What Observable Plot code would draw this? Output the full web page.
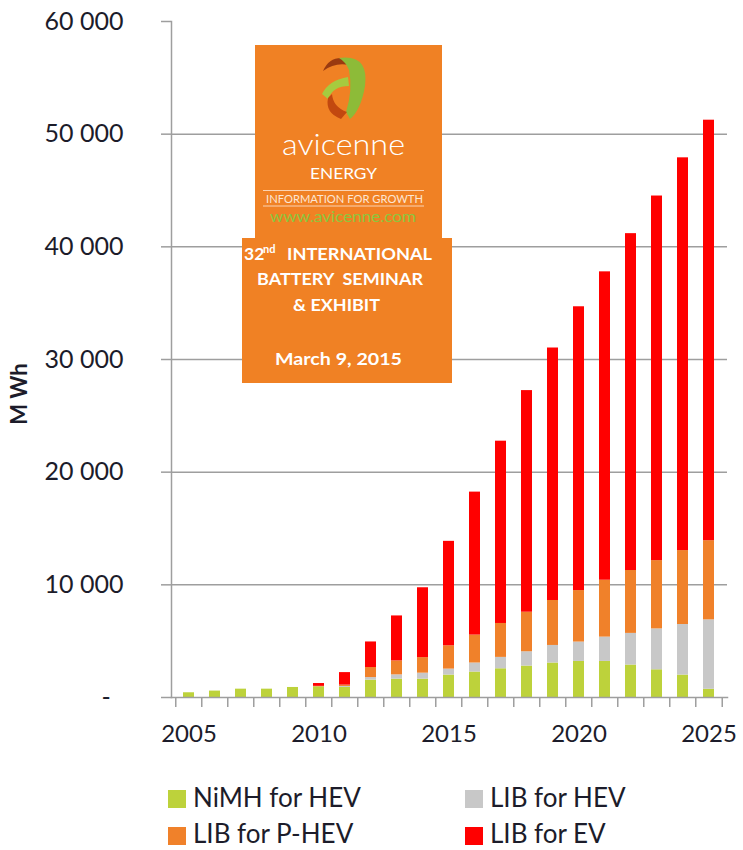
<!DOCTYPE html>
<html>
<head>
<meta charset="utf-8">
<script src="https://cdn.jsdelivr.net/npm/d3@7"></script>
<script src="https://cdn.jsdelivr.net/npm/@observablehq/plot@0.6"></script>
<style>
  html, body { margin: 0; padding: 0; background: #ffffff; }
  #wrap { position: relative; width: 743px; height: 850px; overflow: hidden; font-family: Lato, "Open Sans", sans-serif; }
  #chart { position: absolute; left: 0; top: 0; }
  #overlay { position: absolute; left: 0; top: 0; pointer-events: none; }
  .leg { position: absolute; font-family: Lato, sans-serif; font-size: 26px; color: #1c1c2a; line-height: 26px; white-space: nowrap; }
  .sw { position: absolute; width: 18px; height: 18px; }
</style>
</head>
<body>
<div id="wrap">
  <div id="chart"></div>
  <div id="legend"></div>
  <svg id="overlay" width="743" height="850" xmlns="http://www.w3.org/2000/svg">
    <!-- axis title -->
    <text x="0" y="0" transform="translate(27,394) rotate(-90)" text-anchor="middle" font-family="Lato, sans-serif" font-weight="700" font-size="22" fill="#1c1c2a">M Wh</text>
    <!-- avicenne box -->
    <rect x="255" y="45" width="187" height="194" fill="#f08124"/>
    <rect x="242" y="238" width="210" height="145" fill="#f08124"/>
    <!-- logo -->
    <path d="M323,71 Q329,57 343,58 L349,65 Q335,62 323,71 Z" fill="#9a3a10"/>
    <path d="M339,58 Q369,54 365,86 Q361,110 350,119 L346,112 Q353,90 349,70 Q346,62 339,58 Z" fill="#8dbb38"/>
    <path d="M322,94 Q329,80 348,77 L349,86 Q333,86 328,99 Z" fill="#a6cb3f"/>
    <path d="M328,98 Q325,113 341,119 L347,112 Q333,107 332,94 Z" fill="#c2480f"/>
    <g font-family="Lato, sans-serif" fill="#ffffff">
      <text x="282" y="155" font-size="30" font-weight="300" textLength="123" lengthAdjust="spacingAndGlyphs">avicenne</text>
      <text x="310" y="179" font-size="16" font-weight="400" textLength="67" lengthAdjust="spacingAndGlyphs">ENERGY</text>
      <line x1="263" y1="190.5" x2="424" y2="190.5" stroke="#fbd3b3" stroke-width="1"/>
      <text x="266" y="203" font-size="12" font-weight="400" fill="#fde6d4" textLength="157" lengthAdjust="spacingAndGlyphs">INFORMATION FOR GROWTH</text>
      <line x1="263" y1="206" x2="424" y2="206" stroke="#fbd3b3" stroke-width="1"/>
      <text x="270" y="222" font-size="15" font-weight="400" fill="#8cc63e" textLength="146" lengthAdjust="spacingAndGlyphs">www.avicenne.com</text>
      <text x="244" y="260" font-size="17.5" font-weight="700">32</text>
      <text x="263" y="253" font-size="11" font-weight="700">nd</text>
      <text x="287" y="260" font-size="17.5" font-weight="700" textLength="145" lengthAdjust="spacingAndGlyphs">INTERNATIONAL</text>
      <text x="257" y="285" font-size="17.5" font-weight="700" textLength="166" lengthAdjust="spacingAndGlyphs">BATTERY&#160; SEMINAR</text>
      <text x="293" y="311" font-size="17.5" font-weight="700" textLength="87" lengthAdjust="spacingAndGlyphs">&amp; EXHIBIT</text>
      <text x="275" y="365" font-size="17.5" font-weight="700" textLength="127" lengthAdjust="spacingAndGlyphs">March 9, 2015</text>
    </g>
  </svg>
</div>
<script>
// ---- data (MWh per year, stacked segments) ----
const years = [2005,2006,2007,2008,2009,2010,2011,2012,2013,2014,2015,2016,2017,2018,2019,2020,2021,2022,2023,2024,2025];
const nimhHev = [420,570,740,740,890,950,890,1540,1630,1630,1990,2260,2550,2790,3060,3200,3200,2880,2460,1990,730];
const libHev  = [0,0,0,0,0,0,90,230,380,530,530,800,1010,1270,1560,1720,2160,2810,3630,4490,6160];
const libPhev = [0,0,0,0,0,40,120,890,1240,1380,2070,2480,3010,3510,3990,4570,5050,5580,6060,6560,7030];
const libEv   = [0,0,0,0,0,250,1110,2270,3990,6200,9270,12690,16180,19670,22410,25190,27370,29900,32360,34860,37320];
const seriesNames = ["NiMH for HEV", "LIB for HEV", "LIB for P-HEV", "LIB for EV"];
const seriesColors = ["#bdd23b", "#c8c8c8", "#f0812a", "#ff0000"];
const yTicks = [0,10000,20000,30000,40000,50000,60000];
const xLabels = [2005,2010,2015,2020,2025];

const seriesValues = [nimhHev, libHev, libPhev, libEv];
const rows = [];
years.forEach((yr, i) => {
  seriesValues.forEach((arr, k) => rows.push({year: yr, series: seriesNames[k], value: arr[i]}));
});

const W = 743, ML = 171, MR = 16;
const step = (W - ML - MR) / years.length;
const gridColor = "#9e9e9e";
const fmt = d => d === 0 ? "-\u00a0\u00a0" : d3.format(",")(d).replace(/,/g, "\u00a0");

const chart = Plot.plot({
  width: W,
  height: 750,
  marginLeft: ML,
  marginRight: MR,
  marginTop: 21,
  marginBottom: 53,
  style: {fontFamily: "Lato, sans-serif", background: "transparent", overflow: "visible"},
  x: {type: "band", domain: years, paddingInner: 0.56, paddingOuter: 0.28},
  y: {domain: [0, 60000]},
  color: {domain: seriesNames, range: seriesColors},
  marks: [
    Plot.ruleY(yTicks.filter(d => d > 0 && d < 60000), {stroke: gridColor, strokeWidth: 1.5}),
    Plot.barY(rows, {x: "year", y: "value", fill: "series"}),
    Plot.frame({anchor: "left", stroke: gridColor, strokeWidth: 1.5}),
    Plot.frame({anchor: "bottom", stroke: gridColor, strokeWidth: 1.5}),
    Plot.axisY({ticks: yTicks, tickSize: 10, tickPadding: 38, tickFormat: fmt, stroke: gridColor, strokeWidth: 1.5, fill: "#1c1c2a", fontSize: 25, label: null}),
    Plot.ruleX(years, {x: d => d, y1: 0, y2: 0, dx: -step / 2, insetBottom: -10, stroke: gridColor, strokeWidth: 1.5}),
    Plot.ruleX([years[years.length - 1]], {x: d => d, y1: 0, y2: 0, dx: step / 2, insetBottom: -10, stroke: gridColor, strokeWidth: 1.5}),
    Plot.axisX({ticks: xLabels, tickSize: 0, tickPadding: 27, tickFormat: d => `${d}`, fill: "#1c1c2a", fontSize: 24, label: null})
  ]
});
document.getElementById("chart").appendChild(chart);

// ---- legend ----
const legendPos = [[168, 790, 784], [465, 790, 784], [168, 827, 820], [465, 827, 820]];
const legend = document.getElementById("legend");
seriesNames.forEach((name, k) => {
  const [lx, ly, ty] = legendPos[k];
  const sw = document.createElement("div");
  sw.className = "sw";
  sw.style.left = lx + "px"; sw.style.top = ly + "px"; sw.style.background = seriesColors[k];
  legend.appendChild(sw);
  const t = document.createElement("div");
  t.className = "leg";
  t.style.left = (lx + 25) + "px"; t.style.top = ty + "px";
  t.textContent = name;
  legend.appendChild(t);
});
</script>
</body>
</html>
